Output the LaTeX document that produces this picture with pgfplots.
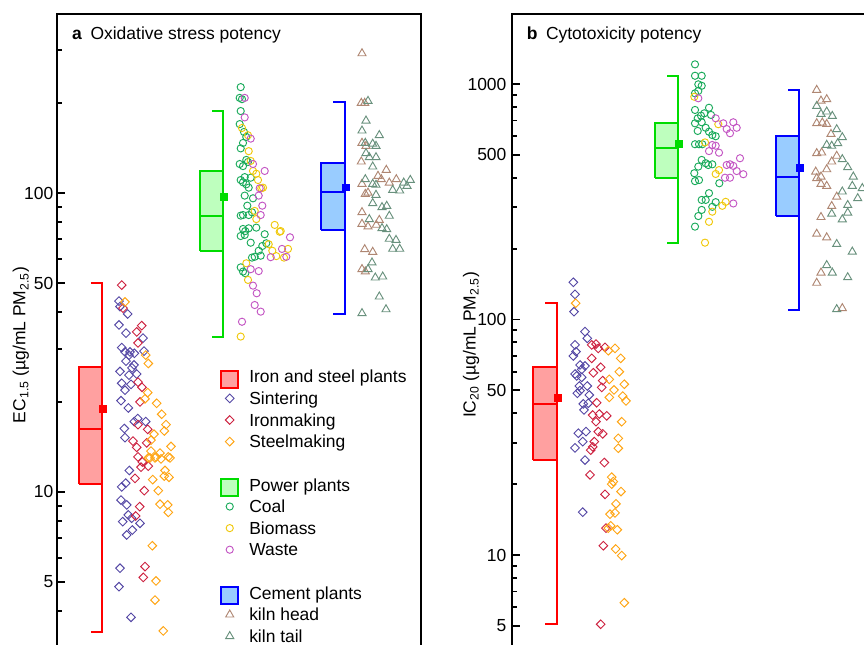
\documentclass[border=0pt]{standalone}
\usepackage{fontspec}
\setmainfont{Liberation Sans}
\usepackage{pgfplots}
\pgfplotsset{compat=1.18}
\definecolor{sint}{RGB}{85,72,165}
\definecolor{ironm}{RGB}{205,35,65}
\definecolor{steel}{RGB}{255,165,20}
\definecolor{coal}{RGB}{25,170,90}
\definecolor{biom}{RGB}{240,200,10}
\definecolor{waste}{RGB}{195,85,195}
\definecolor{khead}{RGB}{175,135,115}
\definecolor{ktail}{RGB}{105,145,125}
\definecolor{ironbox}{RGB}{255,0,0}
\definecolor{ironfill}{RGB}{255,160,160}
\definecolor{powbox}{RGB}{0,220,0}
\definecolor{powfill}{RGB}{190,255,190}
\definecolor{cembox}{RGB}{0,0,255}
\definecolor{cemfill}{RGB}{153,204,255}
\newcommand{\fsz}{\fontsize{13.1}{15.7}\selectfont}
\pgfplotsset{
  diam/.style={only marks, mark=square, mark size=2.3pt, color=#1, mark options={rotate=45, line width=0.7pt}, forget plot},
  circ/.style={only marks, mark=o, mark size=2.7pt, color=#1, mark options={line width=0.7pt}, forget plot},
  tri/.style={only marks, mark=triangle, mark size=3.5pt, color=#1, mark options={line width=0.7pt}, forget plot},
  markleg/.style={legend image code/.code={\path[draw=none, fill=none] (0pt,-7.1pt) rectangle (14.25pt,7.1pt); \draw[##1] plot coordinates {(7.1pt,1.8pt)};}},
  boxleg/.style={legend image code/.code={\path[draw=none, fill=none] (0pt,-7.1pt) rectangle (14.25pt,7.1pt); \draw[##1] (0.75pt,-6.4pt) rectangle (13.5pt,6.4pt);}},
  bx/.style={line width=1.5pt, line join=miter, forget plot},
  meanm/.style={only marks, mark=square*, mark size=2.6pt, color=#1, forget plot},
}
\begin{document}
\begin{tikzpicture}
%================ panel a =================
\begin{axis}[scale only axis, width=273pt, height=499.5pt, ymode=log,
  xtick=\empty, ytick pos=left, tick align=inside,
  axis line style={line width=1.4pt}, tick style={line width=1.4pt, black},
  major tick length=6pt, minor tick length=4pt,
  yticklabel style={font=\fsz, inner sep=0pt, xshift=-2.6pt},
  ylabel style={font=\fsz, anchor=center, at={(axis description cs:-0.099,0.503)}},
  at={(42.75pt,-10.5pt)}, anchor=north west,
  xmin=57, xmax=421, ymin=2.35, ymax=396.9,
  ytick={5,10,50,100}, yticklabels={5,10,50,100},
  minor ytick={3,4,6,7,8,9,20,30,40,60,70,80,90,200,300},
  ylabel={EC\textsubscript{1.5} (µg/mL PM\textsubscript{2.5})},
  legend cell align=left,
  legend style={at={(axis description cs:0.4478,0.4665)}, anchor=north west, draw=none, fill=none,
    inner sep=0pt, row sep=2pt, column sep=7.5pt,
    nodes={inner sep=0pt, text height=10pt, text depth=4.2pt, font=\fsz}},
]
% boxes
\addplot[bx, draw=ironbox, fill=ironfill] coordinates {(79,10.6) (102,10.6) (102,26.2) (79,26.2) (79,10.6)};
\addplot[bx, draw=ironbox] coordinates {(79,16.2) (102,16.2)};
\addplot[bx, draw=ironbox] coordinates {(91,49.9) (102,49.9) (102,3.41) (91,3.41)};
\addplot[meanm=ironbox] coordinates {(102.5,19.0)};
\addplot[bx, draw=powbox, fill=powfill] coordinates {(200,64.1) (223,64.1) (223,118.5) (200,118.5) (200,64.1)};
\addplot[bx, draw=powbox] coordinates {(200,83.8) (223,83.8)};
\addplot[bx, draw=powbox] coordinates {(212,188) (223,188) (223,33.0) (212,33.0)};
\addplot[meanm=powbox] coordinates {(223.5,97.2)};
\addplot[bx, draw=cembox, fill=cemfill] coordinates {(321,75.2) (345,75.2) (345,126.3) (321,126.3) (321,75.2)};
\addplot[bx, draw=cembox] coordinates {(321,100.5) (345,100.5)};
\addplot[bx, draw=cembox] coordinates {(333,202) (345,202) (345,39.4) (333,39.4)};
\addplot[meanm=cembox] coordinates {(345.5,104.5)};
% iron and steel
\addplot[diam=sint] coordinates {(119,43.5) (120,41.7) (127.7,39.4) (119,36.2) (126,34.0) (143,32.7) (121.7,30.4) (125,29.4) (130,29.4) (134.3,29.1) (129,28.7) (144,29.6) (126,27.4) (134,26.6) (132,26.0) (120,25.3) (136.7,24.8) (129,24.6) (121.7,23.1) (131,22.9) (125,21.9) (121,20.2) (128.3,19.1) (137.7,17.6) (134.3,17.2) (145.7,17.2) (124.3,16.3) (125,15.2) (129.3,11.8) (125.7,10.7) (121.7,10.4) (121,9.40) (126.7,9.05) (128.3,8.38) (131.7,8.17) (122.7,7.96) (140,7.86) (132.3,7.46) (126.7,7.18) (120,5.56) (119,4.82) (131,3.81)};
\addplot[diam=ironm] coordinates {(121.7,49.2) (123,41.2) (141.7,36.0) (136.7,34.3) (138,31.5) (138,23.3) (142,22.4) (140,20.0) (138,16.8) (147.7,16.2) (133,14.8) (136.7,14.1) (146.7,14.6) (138,13.1) (142.3,12.6) (141,12.1) (148.3,12.2) (135,11.1) (144.3,10.1) (139.7,8.93) (135.7,8.31) (145,5.63) (143.3,5.18)};
\addplot[diam=steel] coordinates {(125,43.2) (145.7,28.7) (148.3,26.9) (147.7,21.5) (145,20.5) (156.7,19.8) (161.7,18.2) (166,16.8) (164.3,16.0) (154,15.6) (151,14.9) (171,14.2) (151,13.7) (160,13.5) (156,13.1) (168.3,13.1) (148.3,13.0) (150,13.0) (155,13.0) (161,12.9) (170,13.0) (165,11.8) (164.3,11.3) (169,11.2) (152.7,11.0) (158.3,10.1) (160,9.10) (167.7,9.05) (168.3,8.55) (152.3,6.61) (156,5.04) (155,4.35) (163.3,3.43)};
% power
\addplot[circ=coal] coordinates {(240.7,226) (239.7,208) (242,206) (240.7,188) (239.7,170) (244,160) (246.3,154) (243,147) (240.7,141) (239.7,125) (243,123) (246.3,129) (248,127) (240.7,110.5) (244.7,113) (243,108.6) (246.3,106.9) (248.7,104.2) (250.7,112.5) (244.7,98.0) (253,96.0) (247.3,90.7) (240.7,84.0) (243,84.4) (248.7,84.4) (252,86.2) (243,75.8) (245.3,74.6) (248.7,76.2) (256.3,76.6) (240.7,71.8) (244.7,72.4) (264.7,72.8) (250.7,68.2) (262.3,66.5) (266.3,67.9) (258.7,64.1) (254.7,61.2) (252,60.8) (260.7,61.7) (240.7,56.4) (243,54.6) (245.3,53.9)};
\addplot[circ=biom] coordinates {(242,165) (248,156) (248.7,138) (250.7,128) (253,118.5) (256.3,116) (258,110.5) (261.3,103.7) (263,104.2) (254.7,87.1) (256.3,81.8) (274.7,78.2) (279.7,74.2) (280.7,74.6) (268.7,67.4) (272.3,64.1) (276.3,61.5) (284,60.8) (288,65.0) (246.3,58.2) (248,51.2) (240.7,33.1)};
\addplot[circ=waste] coordinates {(244.7,208) (244.7,179) (250.7,152) (253,125) (264.7,118.5) (259.7,103.7) (258.7,98.0) (262.3,90.7) (260.7,84.4) (290,71.1) (282,65.0) (286.3,61.2) (270.7,61.0) (250.7,55.6) (258.7,54.8) (253,49.0) (256.7,46.2) (254.7,42.2) (260.7,40.1) (242,37.1)};
% cement
\addplot[tri=khead] coordinates {(362,293) (361.3,200) (364.7,200) (362,147) (366,143.6) (361.3,127.3) (378,114.0) (386.3,119.4) (381.3,111.1) (389.3,108.2) (396.3,111.1) (362,107.2) (365.3,99.2) (368,100.2) (362,86.2) (362,78.8) (368,77.2) (376.3,78.2) (379.3,81.2) (364.7,64.8) (372.7,63.5) (362,55.6) (365.3,54.6)};
\addplot[tri=ktail] coordinates {(368,203) (366,174.5) (362,161.6) (379.3,156) (365.3,147) (372.7,146) (376,143.6) (366,135.8) (369.3,131.6) (376,131.6) (372.7,122.5) (365.3,111.1) (372.7,107.2) (376,106.4) (392.7,102.3) (399.7,101.8) (403.7,108.2) (410.3,110.5) (407,105.5) (376,98.5) (372.7,92.4) (382,89.6) (386.7,90.5) (389.3,83.8) (369.3,81.7) (382,76.2) (386.7,75.6) (389.3,70.2) (396,69.6) (392.7,65.0) (399.7,65.0) (372,58.5) (368,55.6) (375.3,52.1) (382.7,52.5) (379.3,45.0) (362,39.6) (386,40.8)};
% legend
\addlegendimage{boxleg, draw=ironbox, fill=ironfill, line width=1.5pt}
\addlegendentry{Iron and steel plants}
\addlegendimage{diam=sint, markleg}
\addlegendentry{Sintering}
\addlegendimage{diam=ironm, markleg}
\addlegendentry{Ironmaking}
\addlegendimage{diam=steel, markleg}
\addlegendentry{Steelmaking}
\addlegendimage{empty legend}
\addlegendentry{}
\addlegendimage{boxleg, draw=powbox, fill=powfill, line width=1.5pt}
\addlegendentry{Power plants}
\addlegendimage{circ=coal, markleg}
\addlegendentry{Coal}
\addlegendimage{circ=biom, markleg}
\addlegendentry{Biomass}
\addlegendimage{circ=waste, markleg}
\addlegendentry{Waste}
\addlegendimage{empty legend}
\addlegendentry{}
\addlegendimage{boxleg, draw=cembox, fill=cemfill, line width=1.5pt}
\addlegendentry{Cement plants}
\addlegendimage{tri=khead, markleg}
\addlegendentry{kiln head}
\addlegendimage{tri=ktail, markleg}
\addlegendentry{kiln tail}
\node[anchor=base west, font=\fsz, inner sep=0pt] at (axis description cs:0.041,0.962) {\textbf{a}\hspace{6.4pt}Oxidative stress potency};
\end{axis}
%================ panel b =================
\begin{axis}[scale only axis, width=273pt, height=499.5pt, ymode=log,
  xtick=\empty, ytick pos=left, tick align=inside,
  axis line style={line width=1.4pt}, tick style={line width=1.4pt, black},
  major tick length=6pt, minor tick length=4pt,
  yticklabel style={font=\fsz, inner sep=0pt, xshift=-4pt},
  ylabel style={font=\fsz, anchor=center, at={(axis description cs:-0.1126,0.503)}},
  at={(384pt,-10.5pt)}, anchor=north west,
  xmin=512, xmax=876, ymin=2.945, ymax=1983,
  ytick={5,10,50,100,500,1000}, yticklabels={5,10,50,100,500,1000},
  minor ytick={3,4,6,7,8,9,20,30,40,60,70,80,90,200,300,400,600,700,800,900},
  ylabel={IC\textsubscript{20} (µg/mL PM\textsubscript{2.5})},
]
\addplot[bx, draw=ironbox, fill=ironfill] coordinates {(533,25.3) (557,25.3) (557,63.1) (533,63.1) (533,25.3)};
\addplot[bx, draw=ironbox] coordinates {(533,43.6) (557,43.6)};
\addplot[bx, draw=ironbox] coordinates {(545,117) (557,117) (557,5.08) (545,5.08)};
\addplot[meanm=ironbox] coordinates {(557.5,46.6)};
\addplot[bx, draw=powbox, fill=powfill] coordinates {(655,398) (678,398) (678,685) (655,685) (655,398)};
\addplot[bx, draw=powbox] coordinates {(655,533) (678,533)};
\addplot[bx, draw=powbox] coordinates {(667,1081) (678,1081) (678,212) (667,212)};
\addplot[meanm=powbox] coordinates {(678.5,560)};
\addplot[bx, draw=cembox, fill=cemfill] coordinates {(776,274) (799,274) (799,601) (776,601) (776,274)};
\addplot[bx, draw=cembox] coordinates {(776,402) (799,402)};
\addplot[bx, draw=cembox] coordinates {(788,943) (799,943) (799,110) (788,110)};
\addplot[meanm=cembox] coordinates {(799.5,441)};
% iron and steel
\addplot[diam=sint] coordinates {(573.3,143.9) (575,127.9) (574,107.9) (585,88.8) (587.3,83.2) (575,78.0) (576,73.0) (573.3,70.0) (580,64.1) (585,63.5) (581.7,61.4) (575,58.7) (576.7,57.6) (581.7,56.8) (579.3,52.2) (587.3,52.2) (580,49.9) (577.3,48.6) (589.3,47.8) (583.3,43.8) (588.3,44.1) (584,41.3) (578.3,32.9) (586,33.4) (582.7,30.3) (575,28.5) (585,25.3) (582.7,15.2)};
\addplot[diam=ironm] coordinates {(591.7,78.0) (596,78.7) (598.3,75.4) (605,76.2) (591.7,68.4) (600.7,62.7) (593.3,59.4) (602.7,55.0) (601.7,51.5) (596.7,44.3) (592.7,39.3) (599.3,39.7) (606.7,39.0) (596,36.8) (598.3,33.4) (602.7,32.7) (594.3,30.3) (592.7,28.8) (590.7,27.9) (604.3,24.7) (590,21.9) (605,18.1) (606,13.0) (603.3,10.95) (600.7,5.08)};
\addplot[diam=steel] coordinates {(575.7,117.2) (608.3,73.7) (615,75.4) (620.7,68.4) (619.3,60.0) (609.3,55.7) (624.3,53.1) (614,50.2) (609.3,46.7) (622.7,47.3) (626,45.1) (621.7,36.8) (618.3,31.3) (618.3,28.4) (611.7,21.4) (613.3,20.5) (611.7,20.0) (621,18.6) (616,16.5) (610,14.9) (615,15.1) (610.7,13.3) (608.3,13.0) (617.3,12.8) (615.7,10.6) (621.7,9.94) (624.3,6.27)};
% power
\addplot[circ=coal] coordinates {(695,1212) (695,1084) (701.7,1084) (698.3,997) (701.7,983) (698.3,934) (695,913) (695,776) (709,793) (704.3,751) (701,734) (697.7,715) (711,739) (695,681) (701.7,688) (705.7,652) (697.7,632) (709,627) (712.3,607) (715.7,600) (695,555) (699,555) (702.3,555) (701.7,476) (705.7,461) (708.3,453) (712.3,456) (698.3,446) (694.3,418) (695,387) (699,391) (719.3,379) (709,344) (701.7,322) (705.7,322) (715.7,315) (712.3,301) (701.7,292) (698.3,275) (695,248)};
\addplot[circ=biom] coordinates {(694.3,883) (718.3,675) (705,565) (719,431) (715.7,415) (725.7,316) (722.3,304) (712.3,287) (709,260) (705,212)};
\addplot[circ=waste] coordinates {(698.3,870) (715.7,715) (723.3,681) (733.3,688) (736.7,652) (726.7,644) (730,618) (712.3,551) (715.7,547) (709,519) (719,511) (740,484) (726.7,453) (730,456) (733.3,449) (736.7,427) (743.3,414) (725,400) (730,400) (733.3,311)};
% cement
\addplot[tri=khead] coordinates {(816.7,943) (821,849) (826.7,861) (816.7,681) (822.3,685) (826.7,676) (831,613) (816.7,508) (821.7,511) (836.7,495) (831.7,468) (826.7,434) (815.7,424) (821,404) (816.7,398) (821,376) (826.7,369) (836.7,332) (831.7,303) (821,272) (816.7,231) (826.7,223) (821,158) (816.7,143) (842.3,111.6)};
\addplot[tri=ktail] coordinates {(816.7,806) (821,746) (826.7,763) (832.3,731) (836.7,642) (842.3,594) (826.7,551) (831.7,546) (837.7,560) (842.3,479) (847.7,443) (853.3,404) (852.3,369) (862.3,361) (842.3,349) (857.7,327) (847.7,306) (831.7,281) (847.7,284) (842.3,266) (836.7,209) (852.3,194) (826.7,170) (832.3,158) (847.7,151) (836.7,110.5)};
\node[anchor=base west, font=\fsz, inner sep=0pt] at (axis description cs:0.040,0.962) {\textbf{b}\hspace{6.4pt}Cytotoxicity potency};
\end{axis}
\pgfresetboundingbox
\path[use as bounding box] (0pt,0pt) rectangle (648pt,-483pt);
\end{tikzpicture}
\end{document}
